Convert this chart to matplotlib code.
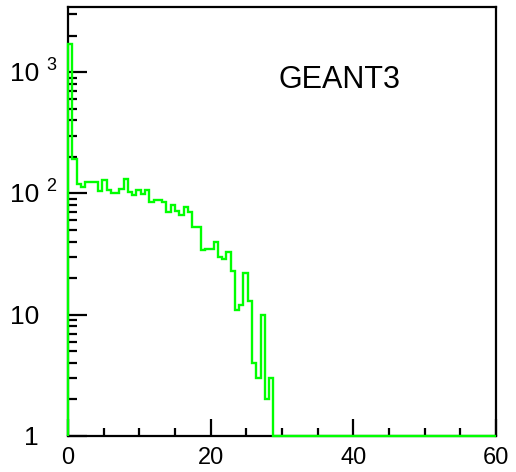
import numpy as np
import matplotlib
matplotlib.use("Agg")
import matplotlib.pyplot as plt
import matplotlib.transforms as mtransforms

plt.rcParams['font.family'] = ['Liberation Sans', 'DejaVu Sans']

# ---- data ----
x_min, x_max, n_bins = 0.0, 60.0, 100
counts_nonzero = [1700, 192, 120, 114, 124, 124, 124, 104, 128, 106,
                  101, 101, 109, 132, 103, 98, 107, 99, 107, 85,
                  88, 88, 85, 70, 81, 72, 66, 77, 70, 53,
                  53, 34, 35, 35, 40, 30, 29, 33, 23, 11,
                  12, 22, 13, 4, 3, 10, 2, 3]
counts = counts_nonzero + [0] * (n_bins - len(counts_nonzero))
y_lim = (1, 3450)
x_ticks = [0, 20, 40, 60]
x_tick_labels = ['0', '20', '40', '60']
y_decades = [1, 10, 100, 1000]
y_label_base = ['1', '10', '10', '10']
y_label_exp = ['', '', '2', '3']
title_text = 'GEANT3'

edges = np.linspace(x_min, x_max, n_bins + 1)
# empty bins are drawn on the floor of the log axis (as PAW does)
shown = np.maximum(np.array(counts, dtype=float), y_lim[0])

W, H = 516, 472
fig = plt.figure(figsize=(W / 100, H / 100), dpi=100)
L, R, B, T = 68, 496, 436, 7
ax = fig.add_axes([L / W, 1 - B / H, (R - L) / W, (B - T) / H])

ax.set_yscale('log')
ax.stairs(shown, edges, baseline=y_lim[0],
          color='#00ff00', lw=1.7, zorder=3, clip_on=False)

ax.set_xlim(x_min, x_max)
ax.set_ylim(*y_lim)

for s in ax.spines.values():
    s.set_linewidth(1.6)
    s.set_color('black')

ax.set_xticks(x_ticks)
ax.set_xticklabels(x_tick_labels)
ax.set_xticks(np.arange(0, 61, 5), minor=True)
ax.tick_params(axis='x', which='major', direction='in', length=12.5, width=1.6,
               labelsize=17, pad=8, top=False)
ax.tick_params(axis='x', which='minor', direction='in', length=6, width=1.6, top=False)

ax.yaxis.set_major_locator(matplotlib.ticker.FixedLocator(y_decades))
ax.yaxis.set_minor_locator(matplotlib.ticker.LogLocator(base=10, subs=np.arange(2, 10)))
ax.yaxis.set_minor_formatter(matplotlib.ticker.NullFormatter())
ax.set_yticklabels([])
ax.tick_params(axis='y', which='major', direction='in', length=13.5, width=1.6, right=False)
ax.tick_params(axis='y', which='minor', direction='in', length=6.5, width=1.6, right=False)

# y tick labels as base + raised exponent
trans = mtransforms.blended_transform_factory(fig.transFigure, ax.transData)
for v, base, ex in zip(y_decades, y_label_base, y_label_exp):
    off = mtransforms.offset_copy(trans, fig=fig, x=0, y=-2, units='dots')
    ax.text(39 / W, v, base, transform=off, ha='right', va='center',
            fontsize=19, clip_on=False)
    if ex:
        off2 = mtransforms.offset_copy(trans, fig=fig, x=0, y=7, units='dots')
        ax.text(46 / W, v, ex, transform=off2, ha='left', va='center',
                fontsize=13, clip_on=False)

ax.text(340 / W, 1 - 80 / H, title_text, transform=fig.transFigure,
        ha='center', va='center', fontsize=22)

fig.savefig('out.png', dpi=100)
